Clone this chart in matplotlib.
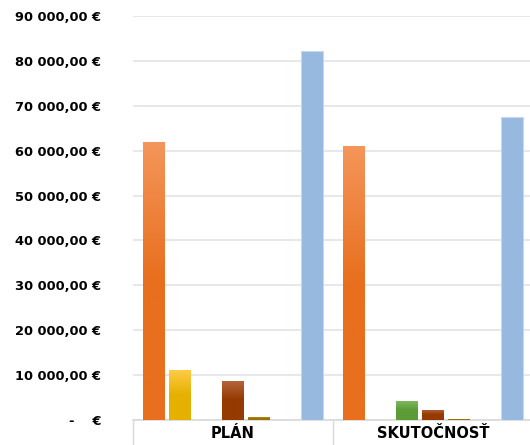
import matplotlib.pyplot as plt
import matplotlib.colors as mcolors
import numpy as np

# categories and series
categories = ['PLÁN', 'SKUTOČNOSŤ']
series_names = ['s1', 's2', 's3', 's4', 's5', 's6', 's7']
values = {
    's1': [61900, 61000],
    's2': [11100, 0],
    's3': [0, 4250],
    's4': [8700, 2250],
    's5': [650, 250],
    's6': [0, 0],
    's7': [82300, 67500],
}
# (top colour, bottom colour) gradient per series
colours = {
    's1': ('#f4955a', '#e86f1d'),
    's2': ('#ffcb45', '#e6b000'),
    's3': ('#80bd5e', '#5c9c38'),
    's4': ('#b4653f', '#953a00'),
    's5': ('#b38c1f', '#9a7000'),
    's6': ('#a5a5a5', '#7f7f7f'),
    's7': ('#97b9e0', '#97b9e0'),
}
yticks = np.arange(0, 90001, 10000)


def eur(v):
    if v == 0:
        return '-    €'
    return f'{v:,.2f}'.replace(',', ' ').replace('.', ',') + ' €'


fig = plt.figure(figsize=(5.3, 4.45), dpi=100)
ax = fig.add_axes([133 / 530, 25 / 445, 400 / 530, 404 / 445])

x = np.arange(len(categories))
step = 0.132
width = 0.11
n = len(series_names)
for i, name in enumerate(series_names):
    offs = (i - (n - 1) / 2) * step
    bars = ax.bar(x + offs, values[name], width, zorder=3)
    top, bot = colours[name]
    cmap = mcolors.LinearSegmentedColormap.from_list(name, [bot, bot, top])
    for b in bars:
        h = b.get_height()
        if h <= 0:
            b.set_visible(False)
            continue
        if top == bot:
            b.set_facecolor(top)
            b.set_edgecolor('#c6d8ef')
            b.set_linewidth(0.8)
            continue
        b.set_facecolor('none')
        b.set_edgecolor('none')
        grad = np.linspace(1, 0, 100).reshape(-1, 1)
        im = ax.imshow(grad, cmap=cmap, aspect='auto', zorder=3,
                       extent=[b.get_x(), b.get_x() + b.get_width(), 0, h])
        im.set_clip_path(b)

ax.set_xlim(-0.5, 1.5)
ax.set_ylim(0, 90000)
ax.set_yticks(yticks)
ax.set_yticklabels([eur(v) for v in yticks], fontsize=9.4, fontweight='bold',
                   color='#000000')
ax.tick_params(axis='y', length=0, pad=23)

ax.set_xticks(x)
ax.set_xticklabels(categories, fontsize=10.5, fontweight='bold')
ax.tick_params(axis='x', which='major', length=0, pad=4)
ax.set_xticks([-0.5, 0.5, 1.5], minor=True)
ax.tick_params(axis='x', which='minor', length=18, width=1, color='#d9d9d9',
               direction='out')

ax.grid(axis='y', color='#e1e4ea', linewidth=1.2, zorder=0)
for s in ['top', 'right', 'left']:
    ax.spines[s].set_visible(False)
ax.spines['bottom'].set_color('#d9d9d9')
ax.spines['bottom'].set_linewidth(1.2)
ax.set_axisbelow(True)

fig.savefig('out.png', dpi=100)
